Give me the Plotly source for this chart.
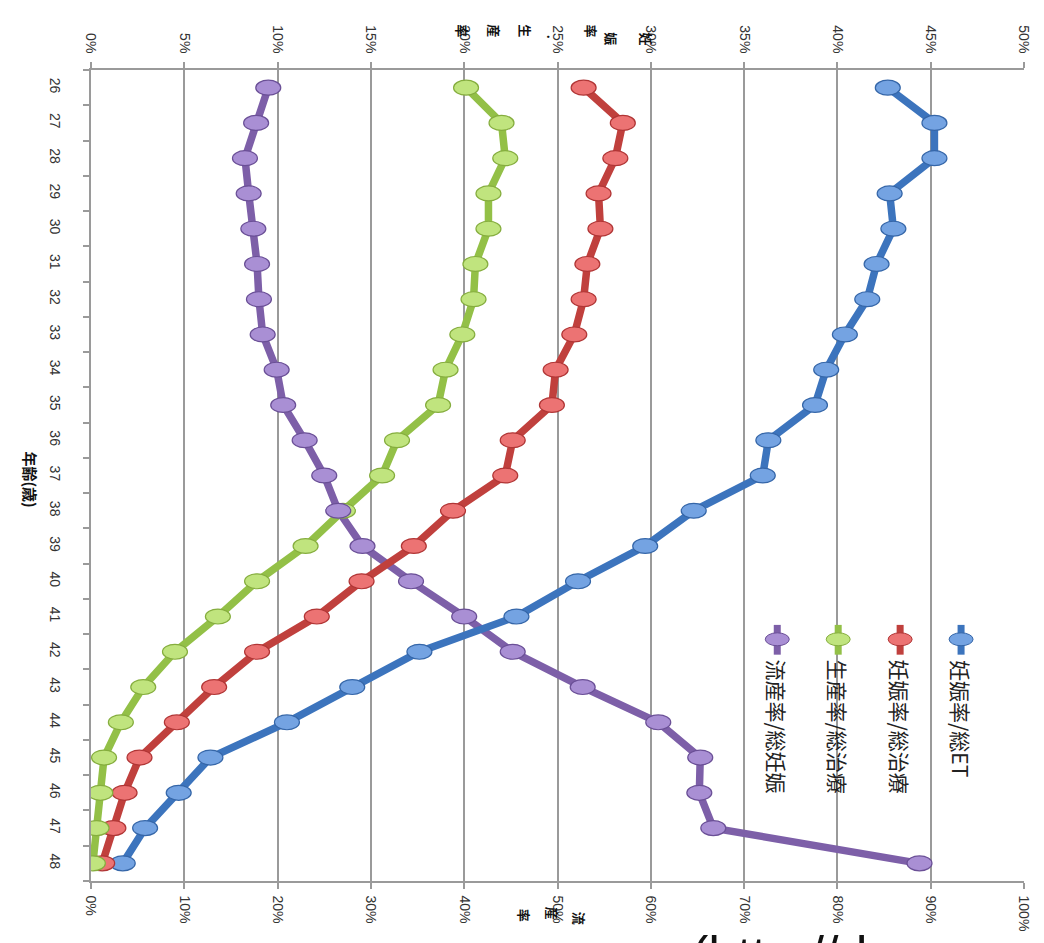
import plotly.graph_objects as go

ages = list(range(26, 49))
age_labels = [str(a) for a in ages]

# 妊娠率/総ET (top axis, 0-50%)
preg_et = [42.7, 45.2, 45.2, 42.8, 43.0, 42.1, 41.6, 40.4, 39.4, 38.8, 36.3, 36.0,
           32.3, 29.7, 26.1, 22.8, 17.6, 14.0, 10.5, 6.4, 4.7, 2.9, 1.7]
# 妊娠率/総治療 (top axis)
preg_tr = [26.4, 28.5, 28.1, 27.2, 27.3, 26.6, 26.4, 25.9, 24.9, 24.7, 22.6, 22.2,
           19.4, 17.3, 14.5, 12.1, 8.9, 6.6, 4.6, 2.6, 1.8, 1.2, 0.6]
# 生産率/総治療 (top axis)
birth_tr = [20.1, 22.0, 22.2, 21.3, 21.3, 20.6, 20.5, 19.9, 19.0, 18.6, 16.4, 15.6,
            13.5, 11.5, 8.9, 6.8, 4.5, 2.8, 1.6, 0.7, 0.5, 0.3, 0.1]
# 流産率/総妊娠 (bottom axis, 0-100%)
misc = [19.0, 17.7, 16.5, 16.9, 17.4, 17.8, 18.0, 18.4, 19.9, 20.6, 22.9, 25.0,
        26.5, 29.1, 34.3, 40.0, 45.2, 52.7, 60.8, 65.3, 65.2, 66.7, 88.8]

series_names = ["妊娠率/総ET", "妊娠率/総治療", "生産率/総治療", "流産率/総妊娠"]
line_colors = ["#3c74bd", "#c0403d", "#93c047", "#7d5fa8"]
fill_colors = ["#74a3e2", "#ec7373", "#c0e47e", "#a98fd4"]
edge_colors = ["#3566a8", "#b03535", "#85ad3e", "#6a4f96"]

top_ticks = list(range(0, 51, 5))
bottom_ticks = list(range(0, 101, 10))

W, H = 1044, 943
L, R, T, B = 91, 19, 70, 56
PW, PH = W - L - R, H - T - B


def xp(px):
    return (px - L) / PW


def yp(py):
    return (H - B - py) / PH


fig = go.Figure()

data_top = [preg_et, preg_tr, birth_tr]
for i, vals in enumerate(data_top):
    fig.add_trace(go.Scatter(x=vals, y=ages, xaxis="x2", yaxis="y", mode="lines",
                             line=dict(color=line_colors[i], width=7.5),
                             name=series_names[i], showlegend=False, hoverinfo="skip"))
fig.add_trace(go.Scatter(x=misc, y=ages, xaxis="x", yaxis="y", mode="lines",
                         line=dict(color=line_colors[3], width=7.5),
                         name=series_names[3], showlegend=False, hoverinfo="skip"))

shapes = []
# ellipse markers, sized in pixels converted to axis units
hx_top = 12.5 / (PW / 50.0)
hx_bot = 12.5 / (PW / 100.0)
hy = 7.5 / (PH / 23.0)
for i, vals in enumerate(data_top + [misc]):
    xref = "x2" if i < 3 else "x"
    hx = hx_top if i < 3 else hx_bot
    for a, v in zip(ages, vals):
        shapes.append(dict(type="circle", xref=xref, yref="y",
                           x0=v - hx, x1=v + hx, y0=a - hy, y1=a + hy,
                           fillcolor=fill_colors[i],
                           line=dict(color=edge_colors[i], width=1.2),
                           layer="above"))

# legend (rotated chart)
leg_x = [962, 901, 839, 778]
annotations = []
for i, name in enumerate(series_names):
    cx = leg_x[i]
    shapes.append(dict(type="line", xref="paper", yref="paper",
                       x0=xp(cx), x1=xp(cx), y0=yp(629), y1=yp(659),
                       line=dict(color=line_colors[i], width=7), layer="above"))
    shapes.append(dict(type="circle", xref="paper", yref="paper",
                       x0=xp(cx - 12), x1=xp(cx + 12), y0=yp(650), y1=yp(637),
                       fillcolor=fill_colors[i], line=dict(color=edge_colors[i], width=1),
                       layer="above"))
    annotations.append(dict(text=name, xref="paper", yref="paper",
                            x=xp(cx), y=yp(662), xanchor="center", yanchor="top",
                            textangle=90, showarrow=False,
                            font=dict(family="Noto Sans CJK JP", size=21, color="#222222")))

# y axis title
annotations.append(dict(text="<b>年齢(歳)</b>", xref="paper", yref="paper",
                        x=xp(17), y=yp(482), textangle=90, showarrow=False,
                        font=dict(family="Noto Sans CJK JP", size=15, color="#111111")))

# top axis title, stacked characters rotated
top_title_chars = ["妊", "娠", "率", ".", "生", "産", "率"]
top_title_pos = [(647, 30), (612, 30), (592, 22), (553, 32), (526, 22), (495, 22), (463, 22)]
for ch, (px_, py_) in zip(top_title_chars, top_title_pos):
    annotations.append(dict(text="<b>" + ch + "</b>", xref="paper", yref="paper",
                            x=xp(px_), y=yp(py_), textangle=90, showarrow=False,
                            font=dict(family="Noto Sans CJK JP", size=13, color="#111111")))

# bottom axis title
bot_title_chars = ["流", "産", "率"]
bot_title_pos = [(580, 933), (553, 928), (525, 930)]
for ch, (px_, py_) in zip(bot_title_chars, bot_title_pos):
    annotations.append(dict(text="<b>" + ch + "</b>", xref="paper", yref="paper",
                            x=xp(px_), y=yp(py_), textangle=90, showarrow=False,
                            font=dict(family="Noto Sans CJK JP", size=13, color="#111111")))

# cut-off source text at the bottom
annotations.append(dict(text="(http://d", xref="paper", yref="paper",
                        x=xp(690), y=yp(930), xanchor="left", yanchor="top",
                        showarrow=False,
                        font=dict(family="Liberation Sans", size=52, color="#111111")))

tickfont = dict(family="Liberation Sans", size=14, color="#333333")

fig.update_layout(
    width=W, height=H,
    margin=dict(l=L, r=R, t=T, b=B),
    paper_bgcolor="white", plot_bgcolor="white",
    showlegend=False,
    xaxis=dict(range=[0, 100], tickvals=bottom_ticks,
               ticktext=[f"{v}%" for v in bottom_ticks],
               tickangle=90, tickfont=tickfont, side="bottom",
               showgrid=True, gridcolor="#9a9a9a", gridwidth=1.5,
               showline=True, linecolor="#9a9a9a", linewidth=1.5,
               ticks="outside", ticklen=6, tickcolor="#9a9a9a", tickwidth=1.5,
               zeroline=False, ticklabelstandoff=4, fixedrange=True),
    xaxis2=dict(range=[0, 50], tickvals=top_ticks,
                ticktext=[f"{v}%" for v in top_ticks],
                tickangle=90, tickfont=tickfont, side="top", overlaying="x",
                showgrid=False, showline=True, linecolor="#9a9a9a", linewidth=1.5,
                ticks="outside", ticklen=6, tickcolor="#9a9a9a", tickwidth=1.5,
                zeroline=False, ticklabelstandoff=4, fixedrange=True),
    yaxis=dict(range=[48.5, 25.5], tickvals=ages, ticktext=age_labels,
               tickangle=90, tickfont=tickfont,
               showgrid=False, showline=True, linecolor="#9a9a9a", linewidth=1.5,
               ticks="", zeroline=False, ticklabelstandoff=22,
               minor=dict(tick0=25.5, dtick=1, ticks="outside", ticklen=6,
                          tickcolor="#9a9a9a", tickwidth=1.5, showgrid=False),
               fixedrange=True),
    shapes=shapes,
    annotations=annotations,
)

fig.write_html("out.html")
